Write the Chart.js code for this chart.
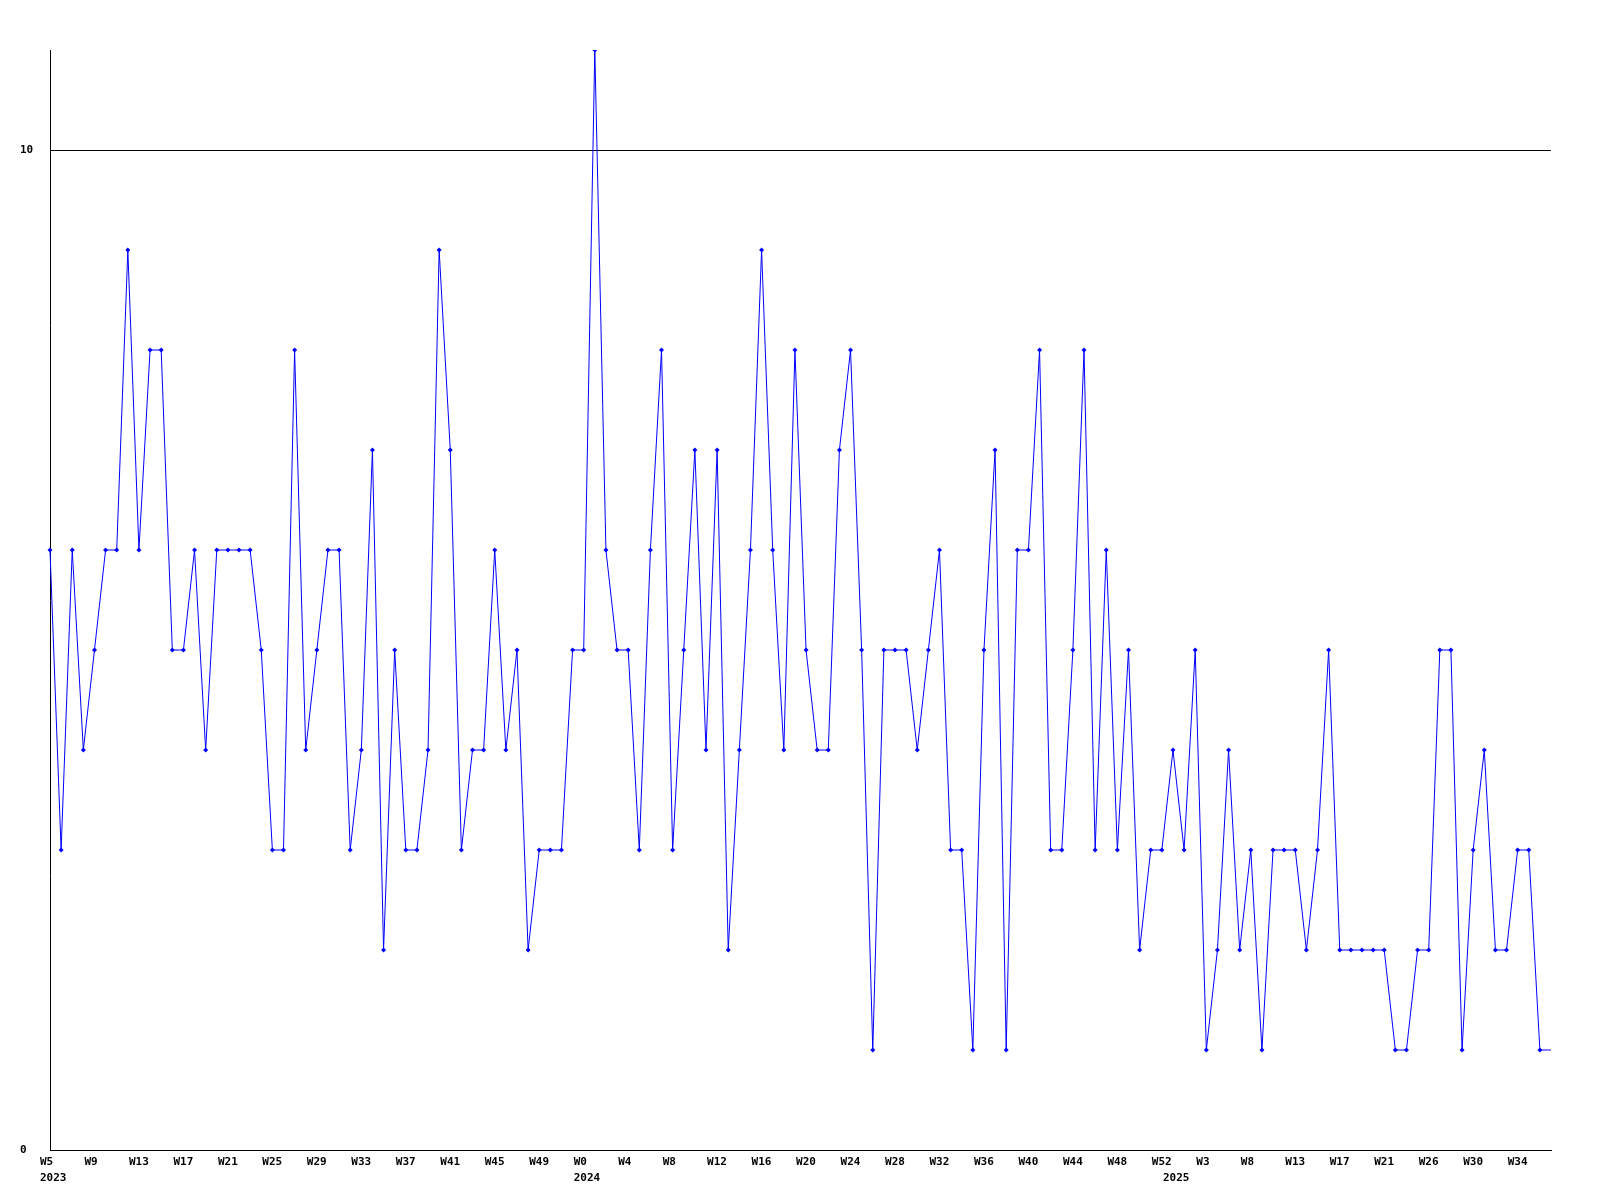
<!DOCTYPE html>
<html>
<head>
<meta charset="utf-8">
<script src="https://cdn.jsdelivr.net/npm/chart.js@4"></script>
<style>
  html, body { margin: 0; padding: 0; background: #fff; }
</style>
</head>
<body>
<canvas id="chart" width="1600" height="1200"></canvas>
<script>
// week numbers per year (categories)
var years = ['2023', '2024', '2025'];
var weeks2023 = [5,6,7,8,9,10,11,12,13,14,15,16,17,18,19,20,21,22,23,24,25,26,27,28,29,30,
  31,32,33,34,35,36,37,38,39,40,41,42,43,44,45,46,47,48,49,50,51,52];
var weeks2024 = [0,1,2,3,4,5,6,7,8,9,10,11,12,13,14,15,16,17,18,19,20,21,22,23,24,25,26,
  27,28,29,30,31,32,33,34,35,36,37,38,39,40,41,42,43,44,45,46,47,48,49,50,51,52];
var weeks2025 = [0,1,2,3,5,6,7,8,10,11,12,13,14,15,16,17,18,19,20,21,23,24,25,26,27,28,29,
  30,31,32,33,34,35,36,37];

// counts per week
var counts = [
  6,3,6,4,5,6,6,9,6,8,
  8,5,5,6,4,6,6,6,6,5,
  3,3,8,4,5,6,6,3,4,7,
  2,5,3,3,4,9,7,3,4,4,
  6,4,5,2,3,3,3,5,5,11,
  6,5,5,3,6,8,3,5,7,4,
  7,2,4,6,9,6,4,8,5,4,
  4,7,8,5,1,5,5,5,4,5,
  6,3,3,1,5,7,1,6,6,8,
  3,3,5,8,3,6,3,5,2,3,
  3,4,3,5,1,2,4,2,3,1,
  3,3,3,2,3,5,2,2,2,2,
  2,1,1,2,2,5,5,1,3,4,
  2,2,3,3,1,1
];

var yTicks = [0, 10];
var labelEvery = 4;

var labels = [];
var weekOf = [];
var yearAt = {};
[weeks2023, weeks2024, weeks2025].forEach(function (wk, y) {
  yearAt[labels.length] = years[y];
  wk.forEach(function (w) {
    labels.push(years[y] + '-W' + w);
    weekOf.push(w);
  });
});

var font = { family: 'DejaVu Sans Mono', size: 11, weight: 'bold', lineHeight: 16 / 11 };

new Chart(document.getElementById('chart'), {
  type: 'line',
  data: {
    labels: labels,
    datasets: [{
      data: counts,
      borderColor: '#0000ff',
      backgroundColor: '#0000ff',
      borderWidth: 1,
      tension: 0,
      fill: false,
      pointStyle: 'rectRot',
      pointRadius: function (ctx) { return ctx.dataIndex === counts.length - 1 ? 0 : 2.5; },
      pointBorderWidth: 0,
      pointBackgroundColor: '#0000ff'
    }]
  },
  options: {
    responsive: false,
    animation: false,
    layout: { padding: { left: 20, top: 50, right: 49, bottom: 0 } },
    plugins: { legend: { display: false }, tooltip: { enabled: false } },
    scales: {
      x: {
        type: 'category',
        offset: false,
        grid: { display: false, drawTicks: false },
        border: { color: '#000', width: 1 },
        afterFit: function (s) { s.height = 50; },
        ticks: {
          autoSkip: false,
          maxRotation: 0,
          minRotation: 0,
          align: 'start',
          labelOffset: -10,
          padding: 4,
          color: '#000',
          font: font,
          callback: function (v, i) {
            var lines = [];
            if (i % labelEvery === 0) lines.push('W' + weekOf[i]);
            if (yearAt[i]) {
              if (!lines.length) lines.push('');
              lines.push(yearAt[i]);
            }
            if (!lines.length) return '';
            return lines.length > 1 ? lines : lines[0];
          }
        }
      },
      y: {
        min: 0,
        max: 11,
        afterBuildTicks: function (s) {
          s.ticks = yTicks.map(function (v) { return { value: v }; });
        },
        afterFit: function (s) { s.width = 30; },
        grid: { color: '#000', lineWidth: 1, drawTicks: false },
        border: { color: '#000', width: 1 },
        ticks: {
          crossAlign: 'far',
          padding: 0,
          color: '#000',
          font: font,
          callback: function (v) { return String(v); }
        }
      }
    }
  }
});
</script>
</body>
</html>
